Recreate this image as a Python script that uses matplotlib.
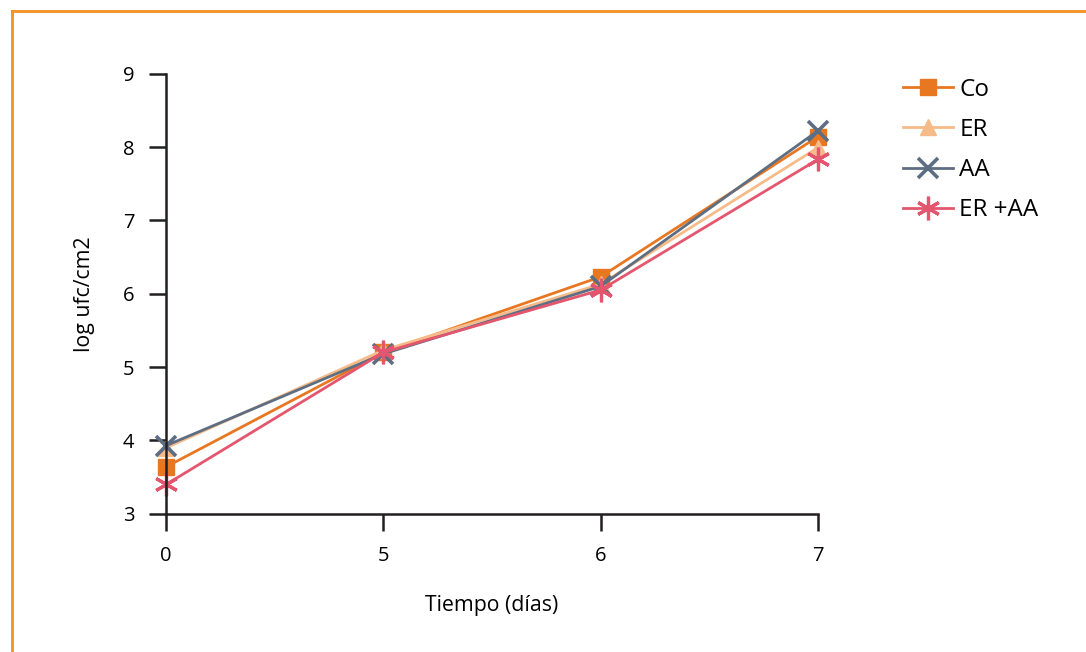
import matplotlib.pyplot as plt
from matplotlib.lines import Line2D

plt.rcParams['font.family'] = ['Open Sans', 'DejaVu Sans']

# datos
dias = ['0', '5', '6', '7']
co = [3.64, 5.20, 6.23, 8.14]
er = [3.90, 5.23, 6.13, 7.99]
aa = [3.93, 5.18, 6.10, 8.22]
er_aa = [3.40, 5.20, 6.05, 7.83]

fig = plt.figure(figsize=(10.86, 6.52), dpi=100)
ax = fig.add_axes([0.153, 0.212, 0.6, 0.675])

x = range(len(dias))
ax.plot(x, co, color='#E87722', lw=2, marker='s', ms=11, label='Co', clip_on=False)
ax.plot(x, er, color='#F5BB88', lw=2, marker='^', ms=12, label='ER', clip_on=False)
ax.plot(x, aa, color='#5E6E82', lw=2, marker='x', ms=14, mew=2.6, label='AA', clip_on=False)
ax.plot(x, er_aa, color='#E4566E', lw=2, marker=(6, 2, 0), ms=17, mew=2.3, label='ER +AA',
        clip_on=False)

ax.set_xlim(0, 3)
ax.set_ylim(3, 9)
ax.set_xticks(list(x))
ax.set_xticklabels(dias)
ax.set_yticks(range(3, 10))
for s in ['top', 'right']:
    ax.spines[s].set_visible(False)
for s in ['left', 'bottom']:
    ax.spines[s].set_linewidth(1.8)
    ax.spines[s].set_color('#231F20')
ax.tick_params(length=12, width=1.8, color='#231F20', labelsize=14.5, pad=11)
ax.set_xlabel('Tiempo (días)', fontsize=15.3, labelpad=21)
ax.set_ylabel('log ufc/cm2', fontsize=15.3, labelpad=20)

ax.legend(loc='upper left', bbox_to_anchor=(1.098, 1.04), frameon=False,
          fontsize=17.5, handlelength=2.05, handletextpad=0.25, labelspacing=0.66)

# marco naranja del recuadro
fig.add_artist(Line2D([0.011, 1], [0.983, 0.983], color='#F39220', lw=2))
fig.add_artist(Line2D([0.011, 0.011], [0, 0.983], color='#F39220', lw=2))

fig.savefig('out.png', dpi=100)
